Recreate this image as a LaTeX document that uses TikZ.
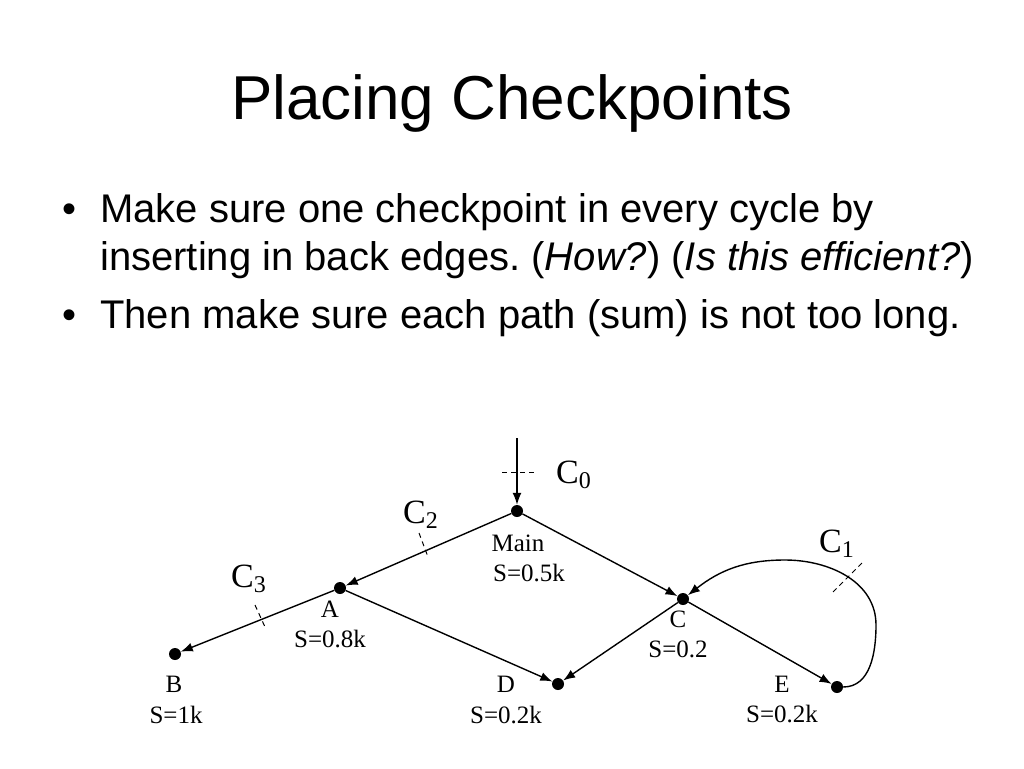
\documentclass[tikz,border=0pt]{standalone}
\usepackage{fontspec}
\setmainfont{Liberation Serif}
\newfontfamily\slidefont{Liberation Sans}
\usetikzlibrary{arrows.meta}
\newcommand{\cpt}[1]{C\raisebox{-5pt}{\fontsize{24}{24}\selectfont #1}}
\tikzset{
	dot/.style={circle, fill=black, inner sep=0pt, minimum size=12pt},
	edge/.style={line width=1.4pt, -{Latex[length=12pt,width=9pt]}},
	cut/.style={line width=1pt, dash pattern=on 5pt off 4pt},
	lbl/.style={anchor=base, inner sep=0pt, font=\fontsize{25}{25}\selectfont},
	clbl/.style={anchor=base west, inner sep=0pt, font=\fontsize{34}{34}\selectfont},
	txt/.style={anchor=base west, inner sep=0pt, font=\slidefont\fontsize{40}{46}\selectfont}
}
\frenchspacing
\begin{document}
\begin{tikzpicture}[x=1pt, y=-1pt]
			%%%%% START %%%%%
			\useasboundingbox (0, 0) rectangle (1024, 768);
			
			\node[anchor=base, inner sep=0pt, font=\slidefont\fontsize{62}{62}\selectfont] (title) at (512, 119) {Placing Checkpoints};
			
			\node[txt, anchor=base] (b1) at (70, 222) {\textbullet};
			\node[txt] (l1) at (100, 222) {Make sure one checkpoint in every cycle by};
			\node[txt] (l2) at (100, 270) {inserting in back edges. (\textit{How?}) (\textit{Is this efficient?})};
			\node[txt, anchor=base] (b2) at (70, 328) {\textbullet};
			\node[txt] (l3) at (100, 328) {Then make sure each path (sum) is not too long.};
			
			\node[dot] (main) at (517, 511) {};
			\node[dot] (a) at (340, 588) {};
			\node[dot] (b) at (175, 654) {};
			\node[dot] (d) at (558, 684) {};
			\node[dot] (c) at (683, 599) {};
			\node[dot] (e) at (837, 687) {};
			
			\node[lbl] (mainname) at (518, 551) {Main};
			\node[lbl] (mains) at (529, 581) {S=0.5k};
			\node[lbl] (aname) at (330, 617) {A};
			\node[lbl] (as) at (330, 647) {S=0.8k};
			\node[lbl] (bname) at (174, 692) {B};
			\node[lbl] (bs) at (176, 723) {S=1k};
			\node[lbl] (dname) at (506, 692) {D};
			\node[lbl] (ds) at (506, 723) {S=0.2k};
			\node[lbl] (cname) at (678, 627) {C};
			\node[lbl] (cs) at (678, 657) {S=0.2};
			\node[lbl] (ename) at (782, 692) {E};
			\node[lbl] (es) at (782, 722) {S=0.2k};
			
			\coordinate (entry) at (517, 438);
			\coordinate (loopr) at (876, 625);
			\coordinate (loopt) at (785, 560);
			
			\draw[edge] (entry) -- (main);
			\draw[edge] (main) -- (a);
			\draw[edge] (main) -- (c);
			\draw[edge] (a) -- (b);
			\draw[edge] (a) -- (d);
			\draw[edge] (c) -- (d);
			\draw[edge] (c) -- (e);
			\draw[edge] (e) to[out=0, in=-90] (loopr) to[out=90, in=0] (loopt) to[out=180, in=38] (c);
			
			\draw[cut] (502, 472) -- (537, 472);
			\draw[cut] (419, 533) -- (428, 557);
			\draw[cut] (255, 605) -- (265, 627);
			\draw[cut] (833, 592) -- (863, 562);
			
			\node[clbl] (c0) at (556, 483) {\cpt{0}};
			\node[clbl] (c1) at (819, 552) {\cpt{1}};
			\node[clbl] (c2) at (403, 523) {\cpt{2}};
			\node[clbl] (c3) at (231, 587) {\cpt{3}};
			%%%%% END %%%%%
\end{tikzpicture}
\end{document}
